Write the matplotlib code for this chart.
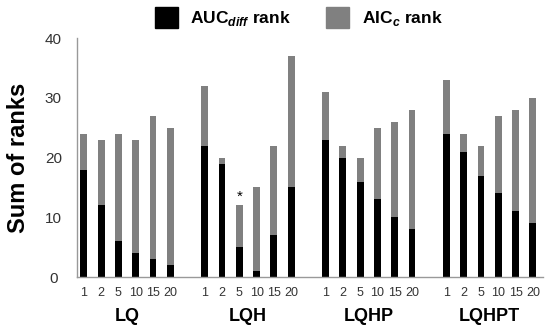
import numpy as np
import matplotlib
matplotlib.use("Agg")
import matplotlib.pyplot as plt
from matplotlib.patches import Patch
from matplotlib.transforms import blended_transform_factory

plt.rcParams['font.family'] = ['Liberation Sans', 'DejaVu Sans']
plt.rcParams['mathtext.fontset'] = 'custom'
plt.rcParams['mathtext.rm'] = 'Liberation Sans'
plt.rcParams['mathtext.bf'] = 'Liberation Sans:bold:italic'

groups = ['LQ', 'LQH', 'LQHP', 'LQHPT']
subsets = ['1', '2', '5', '10', '15', '20']

# rank sums
auc_rank = {
    'LQ':    [18, 12, 6, 4, 3, 2],
    'LQH':   [22, 19, 5, 1, 7, 15],
    'LQHP':  [23, 20, 16, 13, 10, 8],
    'LQHPT': [24, 21, 17, 14, 11, 9],
}
total_rank = {
    'LQ':    [24, 23, 24, 23, 27, 25],
    'LQH':   [32, 20, 12, 15, 22, 37],
    'LQHP':  [31, 22, 20, 25, 26, 28],
    'LQHPT': [33, 24, 22, 27, 28, 30],
}
star_group, star_subset = 'LQH', '5'

GREY = '#808080'

fig = plt.figure(figsize=(5.5, 3.28), dpi=100)
ax = fig.add_axes([0.14, 0.155, 0.847, 0.729])

positions, labels = [], []
auc_all, aic_all = [], []
for g_i, g in enumerate(groups):
    for s_i, s in enumerate(subsets):
        positions.append(g_i * 7 + s_i)
        labels.append(s)
        auc_all.append(auc_rank[g][s_i])
        aic_all.append(total_rank[g][s_i] - auc_rank[g][s_i])
positions = np.array(positions)

ax.bar(positions, auc_all, width=0.4, color='black')
ax.bar(positions, aic_all, bottom=auc_all, width=0.4, color=GREY)

ax.set_xlim(-0.4, positions[-1] + 0.58)
ax.set_ylim(0, 40)
ax.set_yticks([0, 10, 20, 30, 40])
ax.set_xticks(positions)
ax.set_xticklabels(labels, fontsize=9)
ax.tick_params(axis='x', length=0, pad=7, colors='#333333')
ax.tick_params(axis='y', length=0, pad=17, labelsize=11, colors='#333333')
for lab in ax.get_yticklabels():
    lab.set_horizontalalignment('center')

for side in ['top', 'right']:
    ax.spines[side].set_visible(False)
for side in ['left', 'bottom']:
    ax.spines[side].set_color('#999999')
    ax.spines[side].set_linewidth(1.0)

ax.set_ylabel('Sum of ranks', fontsize=17, fontweight='bold')
ax.yaxis.set_label_coords(-0.10, 0.5)

trans = blended_transform_factory(ax.transData, ax.transAxes)
for g_i, g in enumerate(groups):
    ax.text(g_i * 7 + 2.5, -0.165, g, transform=trans, ha='center', va='center',
            fontsize=13, fontweight='bold')

si = groups.index(star_group) * 7 + subsets.index(star_subset)
ax.text(si, total_rank[star_group][subsets.index(star_subset)] + 0.3, '*',
        ha='center', va='bottom', fontsize=11)

handles = [Patch(color='black', label=r'AUC$_{\mathbf{diff}}$ rank'),
           Patch(color=GREY, label=r'AIC$_{\mathbf{c}}$ rank')]
fig.legend(handles=handles, loc='upper center', bbox_to_anchor=(0.543, 1.025),
           ncol=2, frameon=False, prop={'weight': 'bold', 'size': 12.5},
           handlelength=1.35, handleheight=1.45, columnspacing=2.0, handletextpad=0.7)

fig.savefig('out.png', dpi=100)
